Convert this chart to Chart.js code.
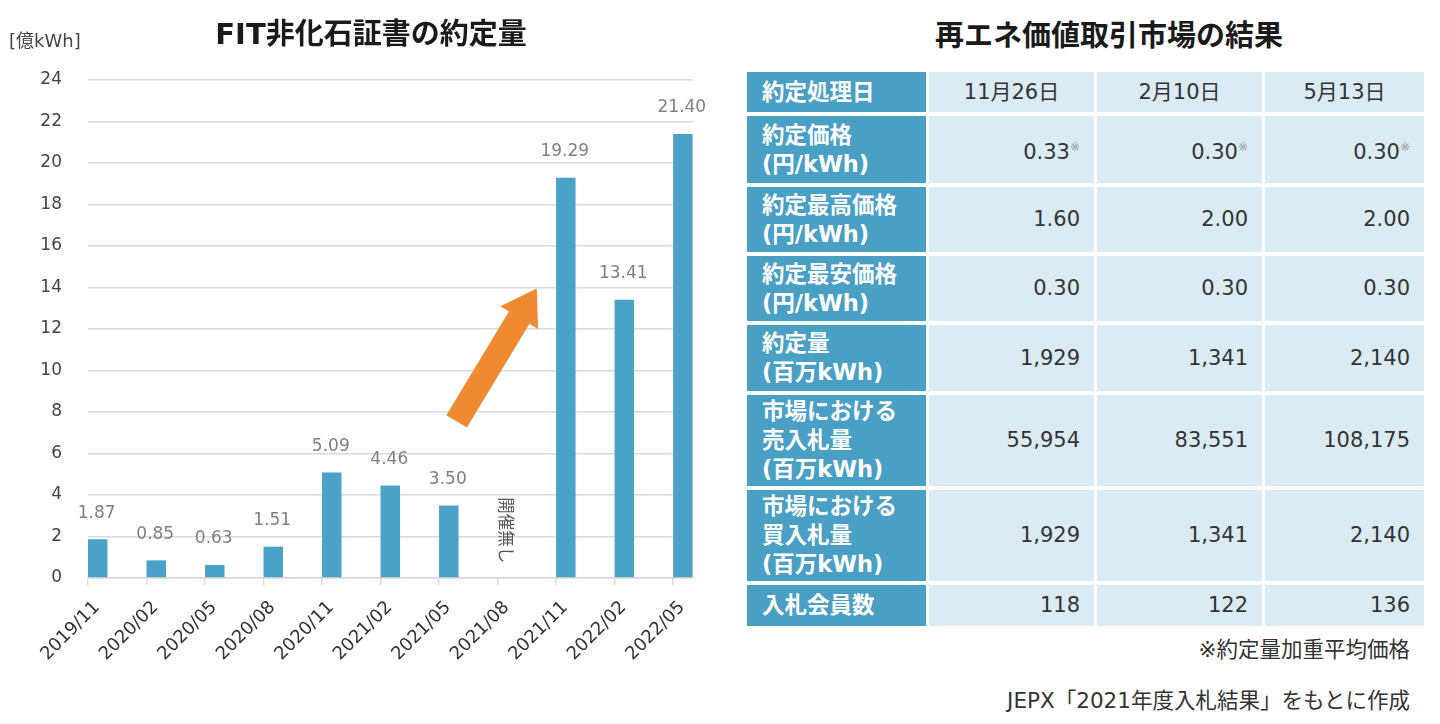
<!DOCTYPE html>
<html lang="ja">
<head>
<meta charset="utf-8">
<script src="https://cdn.jsdelivr.net/npm/chart.js@4.4.1/dist/chart.umd.min.js"></script>
<style>
  html, body { margin: 0; padding: 0; background: #fff; }
  body { width: 1440px; height: 724px; position: relative; overflow: hidden;
         font-family: "DejaVu Sans", "Noto Sans CJK JP", sans-serif; color: #333; }
  #chartBox { position: absolute; left: 0; top: 0; width: 742px; height: 724px; }
  #unit { position: absolute; left: 9px; top: 26px; font-size: 18px; color: #444; }
  #tblTitle { position: absolute; left: 790px; width: 638px; top: 12px; text-align: center;
              font-family: "Noto Sans CJK JP", sans-serif; font-weight: bold; font-size: 29px; color: #1a1a1a; }
  #results { position: absolute; left: 744px; top: 68px; border-collapse: separate; border-spacing: 3px 4px; }
  #results td { padding: 0; font-size: 21px; line-height: 29px; }
  #results td.head { background: #4a9fc5; color: #fff; font-weight: bold; padding-left: 15px; font-size: 22.5px; }
  #results td.val { background: #dbebf4; text-align: right; padding-right: 14px; }
  #results tr.dates td.val { text-align: center; padding-right: 0; }
  #results sup { font-size: 12px; color: #999; vertical-align: 8px; }
  .note { position: absolute; right: 30px; font-size: 21.5px; color: #333; }
</style>
</head>
<body>
<div id="chartBox"><canvas id="volChart"></canvas></div>
<div id="unit">[億kWh]</div>
<div id="tblTitle">再エネ価値取引市場の結果</div>
<table id="results"></table>
<div class="note" style="top:632px">※約定量加重平均価格</div>
<div class="note" style="top:683px">JEPX「2021年度入札結果」をもとに作成</div>
<script>
// FIT非化石証書の約定量 (億kWh)
const chartTitle = 'FIT非化石証書の約定量';
const periods = ['2019/11', '2020/02', '2020/05', '2020/08', '2020/11', '2021/02',
                 '2021/05', '2021/08', '2021/11', '2022/02', '2022/05'];
const volumes = [1.87, 0.85, 0.63, 1.51, 5.09, 4.46, 3.50, null, 19.29, 13.41, 21.40];
const yMax = 24;
const yStep = 2;
const noAuctionText = '開催無し';
// arrow annotation, in data units [x index, value]
const arrowFrom = [6.3, 7.55];
const arrowTo = [7.67, 13.95];

// 再エネ価値取引市場の結果
const auctionDates = ['11月26日', '2月10日', '5月13日'];
const rowLabels = [
    ['約定価格', '(円/kWh)'],
    ['約定最高価格', '(円/kWh)'],
    ['約定最安価格', '(円/kWh)'],
    ['約定量', '(百万kWh)'],
    ['市場における', '売入札量', '(百万kWh)'],
    ['市場における', '買入札量', '(百万kWh)'],
    ['入札会員数'],
];
const avgPrice   = ['0.33', '0.30', '0.30'];
const maxPrice   = ['1.60', '2.00', '2.00'];
const minPrice   = ['0.30', '0.30', '0.30'];
const contracted = ['1,929', '1,341', '2,140'];
const sellBids   = ['55,954', '83,551', '108,175'];
const buyBids    = ['1,929', '1,341', '2,140'];
const members    = ['118', '122', '136'];

const barColor = '#4aa2c8';
const gridColor = '#d9d9d9';
const fontFamily = '"DejaVu Sans", "Noto Sans CJK JP", sans-serif';

// table
const rowValues = [avgPrice, maxPrice, minPrice, contracted, sellBids, buyBids, members];
const rowHeights = [67, 65, 65, 66, 91, 91, 41];
const table = document.getElementById('results');
let html = '<tr class="dates" style="height:40px"><td class="head" style="width:164px">約定処理日</td>' +
    auctionDates.map((d, i) => `<td class="val" style="width:${i === 2 ? 159 : 165}px">${d}</td>`).join('') + '</tr>';
rowLabels.forEach((lines, r) => {
    html += `<tr style="height:${rowHeights[r]}px"><td class="head">${lines.join('<br>')}</td>` +
        rowValues[r].map(v => `<td class="val">${v}${r === 0 ? '<sup>※</sup>' : ''}</td>`).join('') + '</tr>';
});
table.innerHTML = html;

// chart
// title centred on the whole canvas rather than the padded layout box
const centredTitle = {
    id: 'centredTitle',
    afterDraw(chart) {
        const { ctx } = chart;
        ctx.save();
        ctx.font = `bold 29px ${fontFamily}`;
        ctx.fillStyle = '#1a1a1a';
        ctx.textAlign = 'center';
        ctx.textBaseline = 'middle';
        ctx.fillText(chartTitle, chart.width / 2, 36);
        ctx.restore();
    },
};

const valueLabels = {
    id: 'valueLabels',
    afterDatasetsDraw(chart) {
        const { ctx } = chart;
        const meta = chart.getDatasetMeta(1);
        ctx.save();
        ctx.font = `17px ${fontFamily}`;
        ctx.fillStyle = '#808080';
        ctx.textAlign = 'center';
        ctx.textBaseline = 'middle';
        meta.data.forEach((bar, i) => {
            if (volumes[i] == null) return;
            ctx.fillText(volumes[i].toFixed(2), bar.x - 1, bar.y - 26);
        });
        ctx.restore();
    },
};

const annotations = {
    id: 'annotations',
    afterDatasetsDraw(chart) {
        const { ctx, scales: { x, y } } = chart;
        // 開催無し, written downwards at the empty period
        const gap = volumes.indexOf(null);
        ctx.save();
        ctx.translate(x.getPixelForValue(gap) + 7, y.getPixelForValue(2.3));
        ctx.rotate(Math.PI / 2);
        ctx.font = `16.5px ${fontFamily}`;
        ctx.fillStyle = '#555';
        ctx.textAlign = 'center';
        ctx.textBaseline = 'middle';
        ctx.fillText(noAuctionText, 0, 0);
        ctx.restore();

        // orange arrow
        const x0 = x.getPixelForValue(arrowFrom[0]), y0 = y.getPixelForValue(arrowFrom[1]);
        const x1 = x.getPixelForValue(arrowTo[0]), y1 = y.getPixelForValue(arrowTo[1]);
        const len = Math.hypot(x1 - x0, y1 - y0);
        const shaft = 12, head = 22, headLen = 34;
        ctx.save();
        ctx.translate(x0, y0);
        ctx.rotate(Math.atan2(y1 - y0, x1 - x0));
        ctx.beginPath();
        ctx.moveTo(0, -shaft);
        ctx.lineTo(len - headLen, -shaft);
        ctx.lineTo(len - headLen, -head);
        ctx.lineTo(len, 0);
        ctx.lineTo(len - headLen, head);
        ctx.lineTo(len - headLen, shaft);
        ctx.lineTo(0, shaft);
        ctx.closePath();
        ctx.fillStyle = '#ef8a30';
        ctx.fill();
        ctx.restore();
    },
};

new Chart(document.getElementById('volChart'), {
    type: 'bar',
    data: {
        datasets: [
            // empty first series keeps the bars to the right of each tick
            { label: '', data: periods.map((p, i) => ({ x: i, y: null })), backgroundColor: 'rgba(0,0,0,0)' },
            { label: chartTitle, data: periods.map((p, i) => ({ x: i, y: volumes[i] })), backgroundColor: barColor },
        ],
    },
    options: {
        responsive: true,
        maintainAspectRatio: false,
        animation: false,
        layout: { padding: { left: 0, right: 49, top: 80, bottom: 0 } },
        datasets: { bar: { categoryPercentage: 0.665, barPercentage: 1.0 } },
        plugins: {
            legend: { display: false },
            tooltip: { enabled: false },
            title: { display: false },
        },
        scales: {
            x: {
                type: 'linear',
                min: 0,
                max: 10.34,
                offset: false,
                grid: { offset: false, drawOnChartArea: false, color: gridColor, lineWidth: 1.5, tickLength: 7 },
                border: { color: gridColor, width: 1.5 },
                ticks: {
                    stepSize: 1,
                    includeBounds: false,
                    autoSkip: false,
                    maxRotation: 45,
                    minRotation: 45,
                    color: '#333',
                    padding: 12,
                    labelOffset: 9,
                    font: { family: fontFamily, size: 18 },
                    callback: v => periods[v],
                },
                afterFit: scale => { scale.height = 146; },
            },
            y: {
                min: 0,
                max: yMax,
                grid: { color: gridColor, lineWidth: 1.5, drawTicks: false },
                border: { display: false },
                ticks: {
                    stepSize: yStep,
                    padding: 26,
                    color: '#444',
                    font: { family: fontFamily, size: 17 },
                },
                afterFit: scale => { scale.width = 88; },
            },
        },
    },
    plugins: [centredTitle, valueLabels, annotations],
});
</script>
</body>
</html>
